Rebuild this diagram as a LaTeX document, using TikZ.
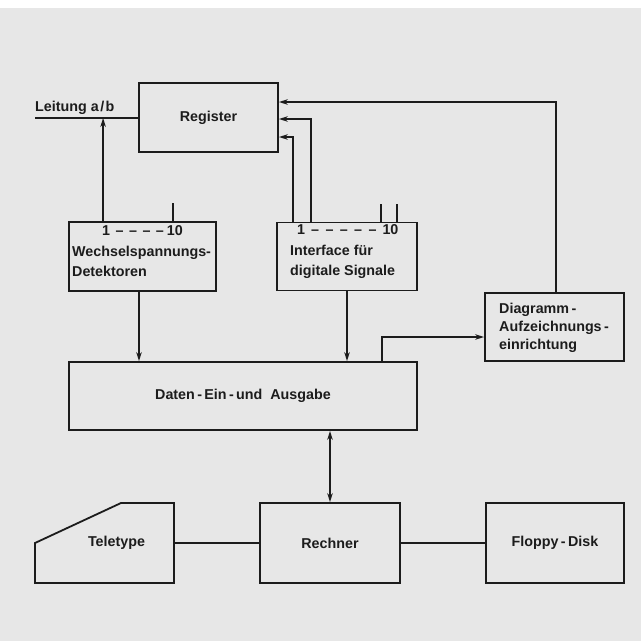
\documentclass[tikz,border=0pt]{standalone}
\usepackage{fontspec}
\setmainfont{Liberation Sans}
\usetikzlibrary{arrows.meta,calc}
\definecolor{paper}{HTML}{E7E7E7}
\definecolor{ink}{HTML}{1C1C1C}
\begin{document}
\begin{tikzpicture}[x=1pt,y=-1pt,
  lab/.style={text=ink,font=\fontsize{14.3}{20.5}\selectfont\bfseries,inner sep=0pt},
  box/.style={lab,draw=ink,line width=1.8pt,rectangle},
  conn/.style={draw=ink,line width=1.8pt},
  arr/.style={conn,-{Stealth[length=9pt,width=5.5pt]}},
  darr/.style={conn,{Stealth[length=9pt,width=5.5pt]}-{Stealth[length=9pt,width=5.5pt]}}
]
\useasboundingbox (0,0) rectangle (641,641);
\fill[white] (0,0) rectangle (641,641);
\fill[paper] (0,8) rectangle (641,641);

% boxes
\node[box,minimum width=139pt,minimum height=69pt] (reg) at (208.5,117.5) {Register};
\node[box,minimum width=147pt,minimum height=69pt] (wech) at (142.5,256.5) {};
\node[box,minimum width=140pt,minimum height=68pt] (iface) at (347,256.5) {};
\node[box,minimum width=348pt,minimum height=68pt] (daten) at (243,396) {Daten\,-\,Ein\,-\,und\ \ Ausgabe};
\node[box,minimum width=139pt,minimum height=68pt] (diag) at (554.5,327) {};
\node[box,minimum width=140pt,minimum height=80pt] (rech) at (330,543) {Rechner};
\node[box,minimum width=138pt,minimum height=80pt] (floppy) at (555,543) {Floppy\,-\,Disk};

% teletype shape
\coordinate (t1) at (35,583);
\coordinate (t2) at (35,543);
\coordinate (t3) at (121,503);
\coordinate (t4) at (174,503);
\coordinate (t5) at (174,583);
\coordinate (teleE) at (174,543);
\draw[conn,line join=miter] (t1) -- (t2) -- (t3) -- (t4) -- (t5) -- cycle;
\node[lab] (tele) at (116.5,543) {Teletype};

% box texts
\node[lab,align=left,anchor=west] (wechT) at (72,251.5)
  {\hspace*{30pt}1\hspace{5.5pt}–\hspace{5.5pt}–\hspace{5.5pt}–\hspace{5.5pt}–\hspace{3pt}10\\
   Wechselspannungs-\\Detektoren};
\node[lab,align=left,anchor=west] (ifaceT) at (290,252)
  {\hspace*{7pt}1\hspace{6pt}–\hspace{6.4pt}–\hspace{6.4pt}–\hspace{6.4pt}–\hspace{6.4pt}–\hspace{6pt}10\\
   Interface\ für\\digitale Signale};
\node[lab,align=left,anchor=west,font=\fontsize{14.3}{18}\selectfont\bfseries] (diagT) at (499,327.5)
  {Diagramm\,-\\Aufzeichnungs\,-\\einrichtung};

% Leitung a/b
\node[lab,anchor=base west] (leit) at (35,111) {Leitung a\kern1.5pt/\kern1.5pt b};
\coordinate (leitW) at (35,118);
\draw[conn] (leitW) -- (leitW -| reg.west);

% Wechsel -> Leitung
\draw[arr] ([xshift=35]wech.north west) -- ([xshift=35]wech.north west |- leitW);
\coordinate (wstub) at ([xshift=105]wech.north west);
\draw[conn] (wstub) -- ++(0,-18);

% Interface -> Register
\draw[arr] ([xshift=17]iface.north west) |- ([yshift=-19.5]reg.east);
\draw[arr] ([xshift=35]iface.north west) |- ([yshift=-1.5]reg.east);
\coordinate (istub1) at ([xshift=105]iface.north west);
\coordinate (istub2) at ([xshift=121]iface.north west);
\draw[conn] (istub1) -- ++(0,-18);
\draw[conn] (istub2) -- ++(0,-18);

% Diagramm -> Register
\draw[arr] ([xshift=1.5]diag.north) |- ([yshift=15.5]reg.east);

% down arrows to Daten
\draw[arr] ([xshift=-3.5]wech.south) -- ([xshift=-3.5]wech.south |- daten.north);
\draw[arr] (iface.south) -- (iface.south |- daten.north);

% Daten -> Diagramm
\draw[arr] ([xshift=-36]daten.north east) |- ([yshift=-10]diag.west);

% Daten <-> Rechner
\draw[darr] (rech.north |- daten.south) -- (rech.north);

% bottom row
\draw[conn] (teleE) -- (rech.west);
\draw[conn] (rech.east) -- (floppy.west);
\end{tikzpicture}
\end{document}
